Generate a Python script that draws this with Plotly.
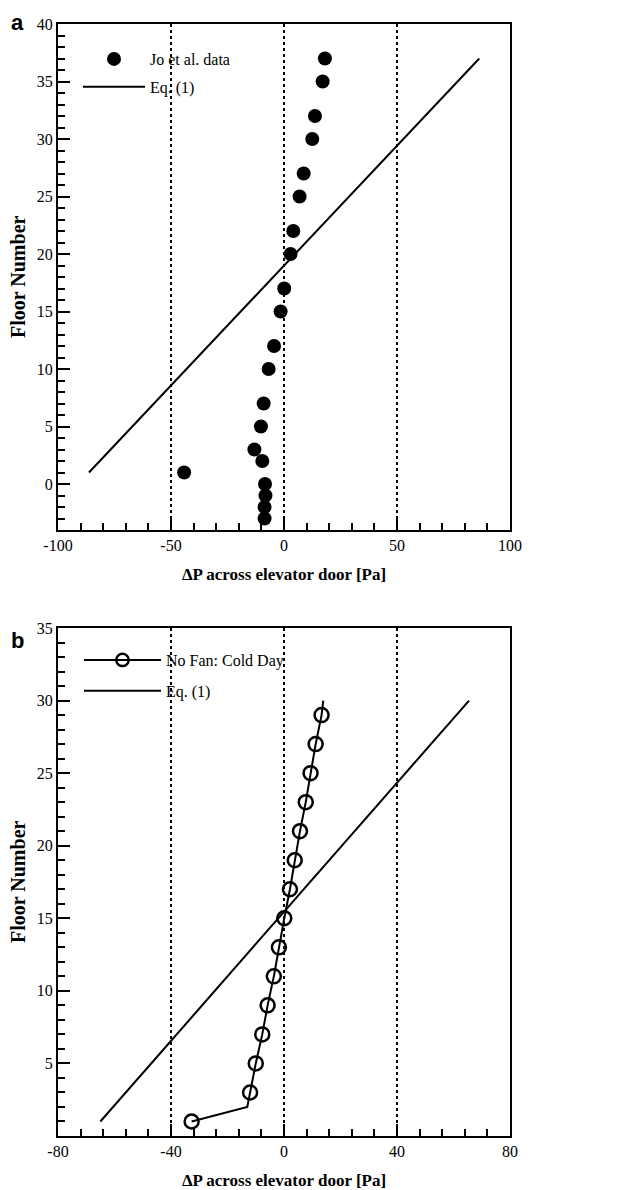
import plotly.graph_objects as go

# ---- Panel a data ----
jo_floor = [37, 35, 32, 30, 27, 25, 22, 20, 17, 15, 12, 10, 7, 5, 3, 2, 1, 0, -1, -2, -3]
jo_dp = [18.1, 17.1, 13.7, 12.5, 8.7, 6.9, 4.1, 2.9, 0.1, -1.5, -4.4, -6.8, -9.0, -10.2,
         -13.1, -9.6, -44.2, -8.4, -8.2, -8.6, -8.6]
eq_a_floor = [1, 37]
eq_a_dp = [-86.3, 86.4]

# ---- Panel b data ----
nofan_floor = [1, 2, 3, 5, 7, 9, 11, 13, 15, 17, 19, 21, 23, 25, 27, 29, 30]
nofan_dp = [-32.7, -13.0, -12.0, -10.0, -7.7, -5.8, -3.6, -1.8, 0.1, 2.1, 3.8, 5.65,
            7.7, 9.4, 11.2, 13.3, 13.9]
nofan_has_marker = [1, 0, 1, 1, 1, 1, 1, 1, 1, 1, 1, 1, 1, 1, 1, 1, 0]
eq_b_floor = [1, 30]
eq_b_dp = [-65.0, 65.5]

xa_ticks = [-100, -50, 0, 50, 100]
xb_ticks = [-80, -40, 0, 40, 80]
ya_ticks = [0, 5, 10, 15, 20, 25, 30, 35, 40]
yb_ticks = [5, 10, 15, 20, 25, 30, 35]

FONT = "Liberation Serif"
W, H = 644, 1190
ML, MR, MT, MB = 58, 134, 24, 54
PH = H - MT - MB
PW = W - ML - MR

fig = go.Figure()

fig.add_trace(go.Scatter(x=jo_dp, y=jo_floor, mode="markers", name="Jo et al. data",
                         marker=dict(color="black", size=14, symbol="circle", opacity=1),
                         legendgroup="a1", xaxis="x", yaxis="y", legend="legend"))
fig.add_trace(go.Scatter(x=eq_a_dp, y=eq_a_floor, mode="lines", name="Eq. (1)",
                         line=dict(color="black", width=2),
                         legendgroup="a2", xaxis="x", yaxis="y", legend="legend"))

fig.add_trace(go.Scatter(x=nofan_dp, y=nofan_floor, mode="lines+markers",
                         name="No Fan: Cold Day",
                         line=dict(color="black", width=2),
                         marker=dict(color="black", opacity=1,
                                     size=[14 * m for m in nofan_has_marker],
                                     symbol="circle-open",
                                     line=dict(color="black", width=2.5)),
                         legendgroup="b1", xaxis="x2", yaxis="y2", legend="legend2"))
fig.add_trace(go.Scatter(x=eq_b_dp, y=eq_b_floor, mode="lines", name="Eq. (1)",
                         line=dict(color="black", width=2),
                         legendgroup="b2", xaxis="x2", yaxis="y2", legend="legend2"))

ya = [(1136 - 530) / PH, 1.0]
yb = [0.0, (1136 - 628) / PH]

common_axis = dict(showline=True, linecolor="black", linewidth=2, mirror=True,
                   ticks="inside", ticklen=12, tickwidth=1.5, tickcolor="black",
                   tickfont=dict(family=FONT, size=16, color="black"),
                   zeroline=False, automargin=False)
minor_t = dict(ticks="inside", ticklen=7, tickcolor="black", tickwidth=1.5, showgrid=False)
xtitle = dict(text="ΔP across elevator door [Pa]", font=dict(family=FONT, size=17, weight="bold"))
ytitle_font = dict(family=FONT, size=20, weight="bold", color="black")

fig.update_layout(
    width=W, height=H,
    margin=dict(l=ML, r=MR, t=MT, b=MB),
    paper_bgcolor="white", plot_bgcolor="white",
    font=dict(family=FONT, color="black"),
    xaxis=dict(domain=[0, 1], range=[-100, 100], tickvals=xa_ticks,
               ticktext=[str(v) for v in xa_ticks],
               showgrid=True, gridcolor="black", griddash="dot", gridwidth=1.5,
               minor=dict(dtick=10, tick0=0, **minor_t),
               title=xtitle, anchor="y", **common_axis),
    yaxis=dict(domain=ya, range=[-4, 40], tickvals=ya_ticks,
               ticktext=[str(v) for v in ya_ticks], showgrid=False,
               minor=dict(dtick=1, tick0=0, **minor_t),
               anchor="x", **common_axis),
    xaxis2=dict(domain=[0, 1], range=[-80, 80], tickvals=xb_ticks,
                ticktext=[str(v) for v in xb_ticks],
                showgrid=True, gridcolor="black", griddash="dot", gridwidth=1.5,
                minor=dict(dtick=8, tick0=0, **minor_t),
                title=xtitle, anchor="y2", **common_axis),
    yaxis2=dict(domain=yb, range=[0, 35], tickvals=yb_ticks,
                ticktext=[str(v) for v in yb_ticks], showgrid=False,
                minor=dict(dtick=1, tick0=0, **minor_t),
                anchor="x2", **common_axis),
    legend=dict(x=(78 - ML) / PW, y=1 - (42 - MT) / PH, xanchor="left", yanchor="top",
                bgcolor="rgba(0,0,0,0)", itemwidth=62, tracegroupgap=4,
                font=dict(family=FONT, size=16, color="black")),
    legend2=dict(x=(79 - ML) / PW, y=1 - (643 - MT) / PH, xanchor="left", yanchor="top",
                 bgcolor="rgba(0,0,0,0)", itemwidth=77, tracegroupgap=7,
                 font=dict(family=FONT, size=16, color="black")),
    annotations=[
        dict(text="a", x=-(ML - 9) / PW, y=1 - (23 - MT) / PH, xref="paper", yref="paper",
             showarrow=False, xanchor="left", yanchor="middle",
             font=dict(family="Liberation Sans", size=22, weight="bold", color="black")),
        dict(text="b", x=-(ML - 9) / PW, y=1 - (640 - MT) / PH, xref="paper", yref="paper",
             showarrow=False, xanchor="left", yanchor="middle",
             font=dict(family="Liberation Sans", size=22, weight="bold", color="black")),
        dict(text="Floor Number", textangle=-90, x=-(ML - 18) / PW, y=sum(ya) / 2,
             xref="paper", yref="paper", showarrow=False, xanchor="center", yanchor="middle",
             font=ytitle_font),
        dict(text="Floor Number", textangle=-90, x=-(ML - 18) / PW, y=sum(yb) / 2,
             xref="paper", yref="paper", showarrow=False, xanchor="center", yanchor="middle",
             font=ytitle_font),
    ],
)

fig.write_html("out.html")
